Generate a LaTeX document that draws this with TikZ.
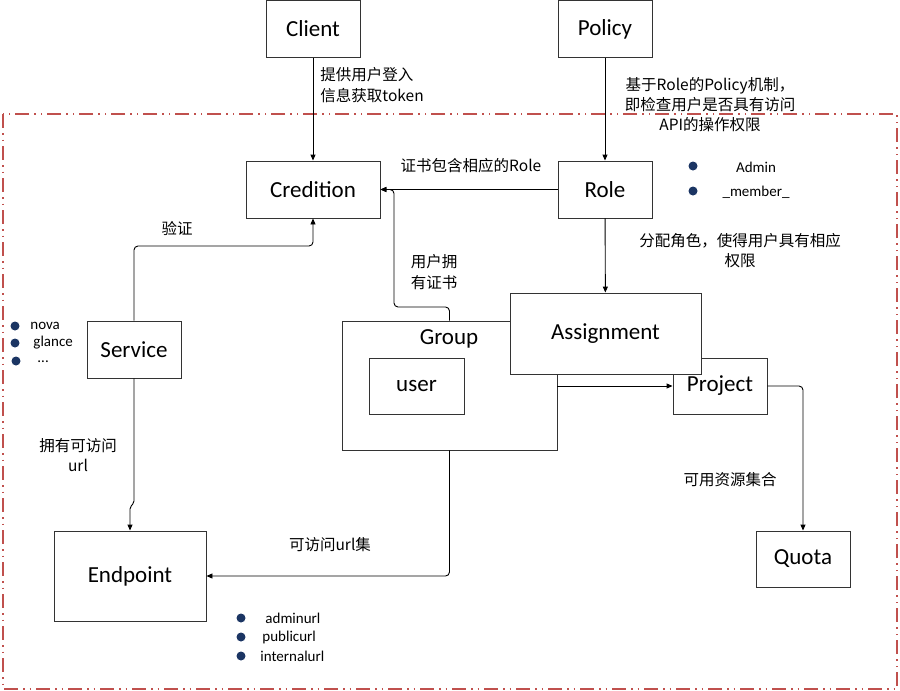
\documentclass[tikz,border=0pt]{standalone}
\usepackage{fontspec}
\setmainfont{Carlito}
\newfontfamily\cjk{Noto Sans CJK SC}
\usetikzlibrary{arrows.meta}
\definecolor{framered}{HTML}{C0504D}
\definecolor{dotblue}{HTML}{1B3563}

\begin{document}
\begin{tikzpicture}[x=1pt,y=-1pt,>={Triangle[length=6pt,width=5pt]},line width=0.9pt]
\tikzstyle{box}=[draw=black!80,fill=white,inner sep=0pt,minimum width=94pt,
minimum height=57pt,font=\fontsize{23}{27}\selectfont]
\tikzstyle{txt}=[inner sep=0pt,align=center,font=\cjk\fontsize{15.5}{21}\selectfont]
\tikzstyle{item}=[inner sep=0pt,anchor=west,font=\fontsize{15}{18}\selectfont]
\tikzstyle{dot}=[circle,fill=dotblue,inner sep=0pt,minimum size=9pt]

\useasboundingbox (0,0) rectangle (900,691);
\draw [framered,line width=2pt,dash pattern=on 14pt off 5pt on 1.5pt off 5pt on 1.5pt off 5pt]
(3,114) rectangle (897,689);

\draw (313,29)  node (client) [box] {Client};
\draw (605,29)  node (policy) [box] {Policy};
\draw (313,189.5)  node (cred) [box,minimum width=134pt] {Credition};
\draw (605,189.5)  node (role) [box] {Role};
\draw (134,349.5)  node (service) [box] {Service};
\draw (449.5,385.5)  node (group) [box,minimum width=215pt,minimum height=129pt] {};
\draw (449,339)  node (grouptxt) [box,draw=none,minimum size=0pt] {Group};
\draw (416.5,386)  node (user) [box,minimum width=95pt,minimum height=56pt] {user};
\draw (720,386)  node (project) [box,minimum height=56pt] {Project};
\draw (605.5,333.5)  node (assign) [box,minimum width=191pt,minimum height=81pt] {Assignment};
\draw (130,576)  node (endpoint) [box,minimum width=152pt,minimum height=90pt] {Endpoint};
\draw (803,559)  node (quota) [box,minimum height=56pt] {Quota};

\draw [->] (client) to (cred);
\draw [->] (policy) to (role);
\draw [->] (role) to (cred);
\draw [->] (role) to (assign);
\draw [->,rounded corners=4pt] (group.north) -- (449.5,307) -- (394,307) -- (394,189.5) -- (cred.east);
\draw [->,rounded corners=4pt] (service.north) -- (134,246) -- (313,246) -- (cred.south);
\draw [->,rounded corners=2pt] (service.south) -- (134,503) -- (130,507) -- (endpoint.north);
\draw [->] (group.east |- project.west) -- (project.west);
\draw [->,rounded corners=4pt] (project.east) -- (803,386) -- (quota.north);
\draw [->,rounded corners=4pt] (group.south) -- (449.5,576) -- (endpoint.east);

\draw (320,85.5)  node (logintxt) [txt,align=left,anchor=west] {提供用户登入\\信息获取token};
\draw (710,105)  node (policytxt) [txt,font=\cjk\fontsize{15.5}{20}\selectfont] {基于Role的Policy机制，\\即检查用户是否具有访问\\API的操作权限};
\draw (471,166)  node (roletxt) [txt] {证书包含相应的Role};
\draw (740,251)  node (assigntxt) [txt,font=\cjk\fontsize{15.5}{20}\selectfont] {分配角色，使得用户具有相应\\权限};
\draw (177,228)  node (verifytxt) [txt] {验证};
\draw (434,272.5)  node (certtxt) [txt] {用户拥\\有证书};
\draw (78,455)  node (urltxt) [txt,font=\cjk\fontsize{15.5}{20}\selectfont] {拥有可访问\\url};
\draw (330,545)  node (urlsettxt) [txt] {可访问url集};
\draw (730,480)  node (quotatxt) [txt] {可用资源集合};

\draw (693,166)  node (d1) [dot] {};
\draw (693,191)  node (d2) [dot] {};
\draw (756,167)  node (admin) [item,anchor=center] {Admin};
\draw (756,192)  node (member) [item,anchor=center] {\_member\_};

\draw (15,326)  node (d3) [dot] {};
\draw (15,343)  node (d4) [dot] {};
\draw (16,361)  node (d5) [dot] {};
\draw (30,326)  node (nova) [item] {nova};
\draw (33,343)  node (glance) [item] {glance};
\draw (37,362)  node (more) [item] {...};

\draw (241,618)  node (d6) [dot] {};
\draw (241,637)  node (d7) [dot] {};
\draw (241,656)  node (d8) [dot] {};
\draw (265,618)  node (adminurl) [item] {adminurl};
\draw (262,637)  node (publicurl) [item] {publicurl};
\draw (260,656)  node (internalurl) [item] {internalurl};
\end{tikzpicture}
\end{document}
